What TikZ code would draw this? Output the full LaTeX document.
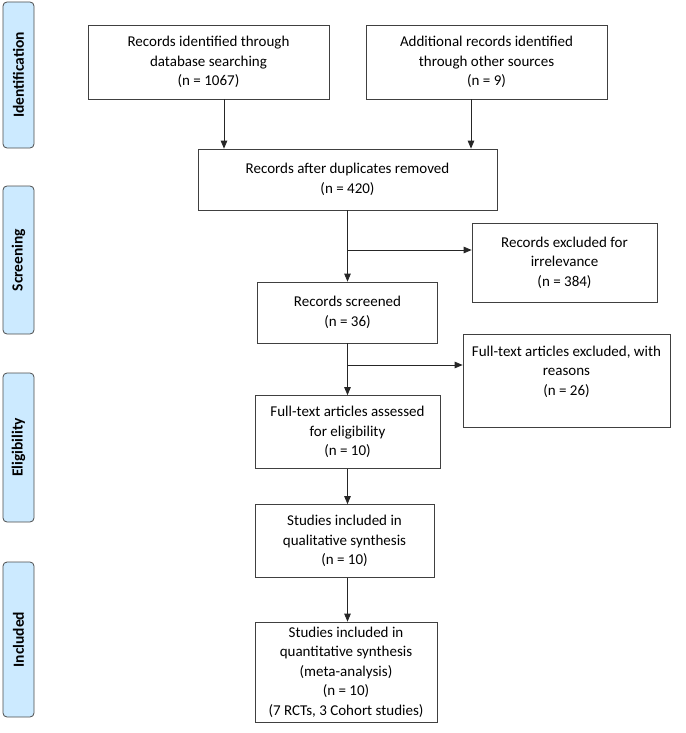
\documentclass[tikz,border=0pt]{standalone}
\usepackage{fontspec}
\setmainfont{Carlito}
\usepackage{tikz}
\usetikzlibrary{arrows}
\definecolor{phaseblue}{RGB}{204,234,255}
\tikzstyle{record} = [rectangle, draw=black!75, line width=0.8pt, align=center, font=\fontsize{15}{19.5}\selectfont, inner sep=0pt]
\tikzstyle{phase} = [rectangle, rounded corners=4pt, draw=black!70, line width=0.8pt, fill=phaseblue, rotate=90, minimum height=31pt, font=\fontsize{15.5}{17}\selectfont\bfseries, inner sep=0pt]
\tikzstyle{arrow} = [line width=0.8pt, draw=black!85, ->, >=triangle 45]

\begin{document}
\begin{tikzpicture}[x=1pt, y=-1pt]
		\useasboundingbox (0,0) rectangle (685,733);
		% phases
		\node (p1) [phase, minimum width=146pt] at (18.5,75) {Identification};
		\node (p2) [phase, minimum width=148pt] at (18.5,260) {Screening};
		\node (p3) [phase, minimum width=149pt] at (18.5,447.5) {Eligibility};
		\node (p4) [phase, minimum width=155pt] at (18.5,639.5) {Included};
		% records
		\node (r1) [record, minimum width=241pt, minimum height=74pt] at (208.5,62) {Records identified through\\database searching\\(n = 1067)};
		\node (r2) [record, minimum width=241pt, minimum height=74pt] at (486.5,62) {Additional records identified\\through other sources\\(n = 9)};
		\node (r3) [record, minimum width=299pt, minimum height=61pt] at (347.5,179.5) {Records after duplicates removed\\(n = 420)};
		\node (x1) [record, minimum width=185pt, minimum height=79pt] at (564.5,262.5) {Records excluded for\\irrelevance\\(n = 384)};
		\node (r4) [record, minimum width=180pt, minimum height=61pt] at (347.5,312.5) {Records screened\\(n = 36)};
		\node (x2) [record, minimum width=207pt, minimum height=93pt] at (566.5,380.5) {Full-text articles excluded, with\\reasons\\(n = 26)\\\mbox{}};
		\node (r5) [record, minimum width=185pt, minimum height=73pt] at (347.5,432) {Full-text articles assessed\\for eligibility\\(n = 10)};
		\node (r6) [record, minimum width=179pt, minimum height=73pt] at (344.5,541) {Studies included in\\qualitative synthesis\\(n = 10)};
		\node (r7) [record, minimum width=182pt, minimum height=100pt] at (346,672) {Studies included in\\quantitative synthesis\\(meta-analysis)\\(n = 10)\\(7 RCTs, 3 Cohort studies)};
		% branch points
		\coordinate (b1) at (347.5,250);
		\coordinate (b2) at (347.5,365);
		\draw [arrow] (r1.south -| 224,0) -- (r3.north -| 224,0);
		\draw [arrow] (r2.south -| 471,0) -- (r3.north -| 471,0);
		\draw [arrow] (r3) -- (r4);
		\draw [arrow] (b1) -- (b1 -| x1.west);
		\draw [arrow] (r4) -- (r5);
		\draw [arrow] (b2) -- (b2 -| x2.west);
		\draw [arrow] (r5.south -| 347.5,0) -- (r6.north -| 347.5,0);
		\draw [arrow] (r6.south -| 347.5,0) -- (r7.north -| 347.5,0);
		\end{tikzpicture}
\end{document}
